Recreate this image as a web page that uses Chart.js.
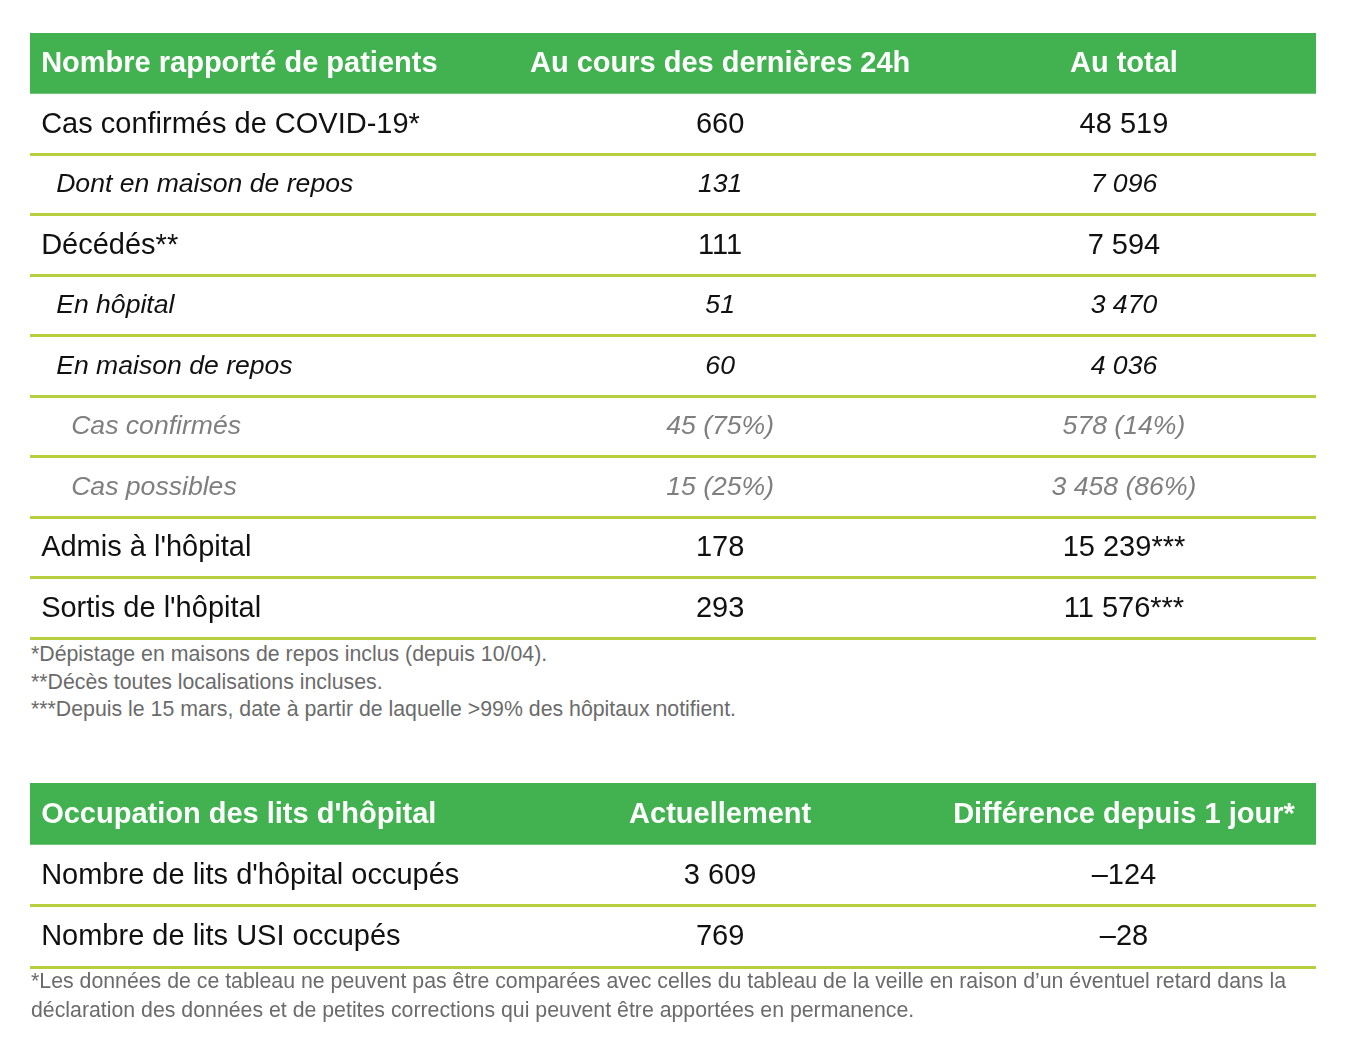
<!DOCTYPE html>
<html>
<head>
<meta charset="utf-8">
<script src="https://cdn.jsdelivr.net/npm/chart.js@4/dist/chart.umd.min.js"></script>
<style>
  body { margin: 0; background: #fff; width: 1370px; height: 1046px; position: relative; overflow: hidden; }
  .box { position: absolute; }
  .note { position: absolute; left: 31px; font-family: "Liberation Sans", Arial, sans-serif; font-size: 21.3px; color: #6b6b6b; white-space: nowrap; }
</style>
</head>
<body>
<div class="box" style="left:30px; top:33px; width:1286px; height:608px;"><canvas id="table1"></canvas></div>
<div class="note" id="notes1" style="top:641px; line-height:27.5px;"></div>
<div class="box" style="left:30px; top:783px; width:1286px; height:187px;"><canvas id="table2"></canvas></div>
<div class="note" id="notes2" style="top:967px; line-height:29px;"></div>
<script>
// table 1 : patients
const headers1 = ['Nombre rapporté de patients', 'Au cours des dernières 24h', 'Au total'];
const rowLabels1 = ['Cas confirmés de COVID-19*', 'Dont en maison de repos', 'Décédés**', 'En hôpital',
  'En maison de repos', 'Cas confirmés', 'Cas possibles', "Admis à l'hôpital", "Sortis de l'hôpital"];
const rowLevels1 = [0, 1, 0, 1, 1, 2, 2, 0, 0];
const last24h = ['660', '131', '111', '51', '60', '45 (75%)', '15 (25%)', '178', '293'];
const totals = ['48 519', '7 096', '7 594', '3 470', '4 036', '578 (14%)', '3 458 (86%)', '15 239***', '11 576***'];
const notes1 = ['*Dépistage en maisons de repos inclus (depuis 10/04).',
  '**Décès toutes localisations incluses.',
  '***Depuis le 15 mars, date à partir de laquelle >99% des hôpitaux notifient.'];

// table 2 : lits
const headers2 = ["Occupation des lits d'hôpital", 'Actuellement', 'Différence depuis 1 jour*'];
const rowLabels2 = ["Nombre de lits d'hôpital occupés", 'Nombre de lits USI occupés'];
const rowLevels2 = [0, 0];
const current = ['3 609', '769'];
const diffDay = ['–124', '–28'];
const notes2 = ["*Les données de ce tableau ne peuvent pas être comparées avec celles du tableau de la veille en raison d’un éventuel retard dans la",
  'déclaration des données et de petites corrections qui peuvent être apportées en permanence.'];

const GREEN = '#41b24f';
const LIME = '#b5cf3f';
const FONT = '"Liberation Sans", Arial, sans-serif';

document.getElementById('notes1').innerHTML = notes1.join('<br>');
document.getElementById('notes2').innerHTML = notes2.join('<br>');

// cell styles by level
const levelStyle = [
  { font: 'normal 29px ' + FONT, color: '#111', indent: 0 },
  { font: 'italic 26.6px ' + FONT, color: '#111', indent: 15 },
  { font: 'italic 26.6px ' + FONT, color: '#7f7f7f', indent: 30 }
];

const cellText = {
  id: 'cellText',
  afterDatasetsDraw(chart, args, opts) {
    const ctx = chart.ctx;
    const xs = chart.scales.x, ys = chart.scales.y;
    const colX = opts.cols.map(v => xs.getPixelForValue(v));
    ctx.save();
    ctx.textBaseline = 'alphabetic';
    // header
    let yc = ys.getPixelForValue(0);
    ctx.font = 'bold 29px ' + FONT;
    ctx.fillStyle = '#fff';
    opts.headers.forEach((h, j) => {
      ctx.textAlign = j === 0 ? 'left' : 'center';
      ctx.fillText(h, colX[j], yc + 9);
    });
    // rows
    opts.rows.forEach((r, i) => {
      const st = levelStyle[opts.levels[i]];
      yc = ys.getPixelForValue(i + 1);
      ctx.font = st.font;
      ctx.fillStyle = st.color;
      const off = opts.levels[i] === 0 ? 9 : 8;
      ctx.textAlign = 'left';
      ctx.fillText(r, colX[0] + st.indent, yc + off);
      ctx.textAlign = 'center';
      ctx.fillText(opts.c2[i], colX[1], yc + off);
      ctx.fillText(opts.c3[i], colX[2], yc + off);
    });
    ctx.restore();
  }
};

function makeTable(id, headers, rows, levels, c2, c3) {
  const labels = ['header'].concat(rows);
  const headerBar = labels.map((l, i) => i === 0 ? [0, 3] : null);
  return new Chart(document.getElementById(id), {
    type: 'bar',
    data: {
      labels: labels,
      datasets: [{
        data: headerBar,
        backgroundColor: GREEN,
        borderWidth: 0,
        barPercentage: 1,
        categoryPercentage: 1
      }]
    },
    options: {
      indexAxis: 'y',
      responsive: true,
      maintainAspectRatio: false,
      animation: false,
      layout: { padding: { top: 0, bottom: 3, left: 0, right: 0 } },
      plugins: {
        legend: { display: false },
        tooltip: { enabled: false },
        cellText: { headers: headers, rows: rows, levels: levels, c2: c2, c3: c3, cols: [0.026, 1.61, 2.552] }
      },
      scales: {
        x: { type: 'linear', min: 0, max: 3, display: false },
        y: {
          type: 'category',
          offset: true,
          border: { display: false },
          ticks: { display: false },
          grid: {
            offset: true,
            drawTicks: false,
            lineWidth: 3,
            color: c => (c.index === 0 || c.index === 1) ? 'rgba(0,0,0,0)' : LIME
          }
        }
      }
    },
    plugins: [cellText]
  });
}

makeTable('table1', headers1, rowLabels1, rowLevels1, last24h, totals);
makeTable('table2', headers2, rowLabels2, rowLevels2, current, diffDay);
</script>
</body>
</html>
